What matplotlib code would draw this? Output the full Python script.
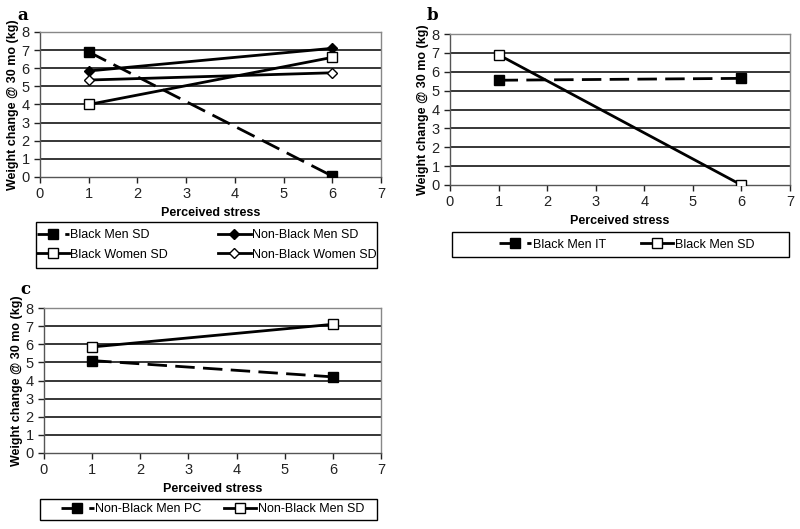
import matplotlib.pyplot as plt
from matplotlib.patches import Rectangle

plt.rcParams['font.family'] = ['Liberation Sans', 'DejaVu Sans']

x = [1, 6]

# panel a
a_black_men_sd = [6.9, 0.05]
a_nonblack_men_sd = [5.85, 7.1]
a_black_women_sd = [4.0, 6.6]
a_nonblack_women_sd = [5.35, 5.75]

# panel b
b_black_men_it = [5.55, 5.65]
b_black_men_sd = [6.9, 0.0]

# panel c
c_nonblack_men_pc = [5.1, 4.2]
c_nonblack_men_sd = [5.85, 7.1]

W, H = 800, 529
fig = plt.figure(figsize=(8, 5.29), dpi=100)
DASH = (0, (7, 3))


def px_axes(left, top, right, bottom):
    return fig.add_axes([left / W, 1 - bottom / H, (right - left) / W, (bottom - top) / H])


def style(ax):
    ax.set_xlim(0, 7)
    ax.set_ylim(0, 8)
    ax.set_xticks(range(0, 8))
    ax.set_yticks(range(0, 9))
    for y in range(1, 9):
        ax.axhline(y, color='black', lw=1.1, zorder=1)
    for s in ['top', 'right']:
        ax.spines[s].set_color('#888888')
        ax.spines[s].set_linewidth(1.0)
    for s in ['left', 'bottom']:
        ax.spines[s].set_color('#555555')
        ax.spines[s].set_linewidth(1.0)
    ax.tick_params(labelsize=10.5, length=4, direction='out', width=1, colors='#222222')
    ax.set_xlabel('Perceived stress', fontsize=9, fontweight='bold', labelpad=4)
    ax.set_ylabel('Weight change @ 30 mo (kg)', fontsize=9, fontweight='bold', labelpad=2)


def leg(ax, handles, left, top, right, bottom, colsp, shift=0, rowsp=0.6):
    fig.patches.append(Rectangle((left / W, 1 - bottom / H), (right - left) / W, (bottom - top) / H,
                                 transform=fig.transFigure, fill=False, ec='black', lw=1.0))
    ax.legend(handles=handles, loc='center',
              bbox_to_anchor=((left + right) / 2 / W + shift / W, 1 - (top + bottom) / 2 / H),
              bbox_transform=fig.transFigure, ncol=2, frameon=False, fontsize=9,
              handlelength=2.6, handletextpad=0.1, borderpad=0.0, labelspacing=rowsp,
              columnspacing=colsp)


# a
ax = px_axes(40, 32, 381, 177)
style(ax)
h1, = ax.plot(x, a_black_men_sd, color='black', lw=2, ls=DASH, marker='s', ms=7, mfc='black', label='Black Men SD', zorder=3)
h2, = ax.plot(x, a_nonblack_men_sd, color='black', lw=2, marker='D', ms=5, mfc='black', label='Non-Black Men SD', zorder=3)
h3, = ax.plot(x, a_black_women_sd, color='black', lw=2, marker='s', ms=7, mfc='white', label='Black Women SD', zorder=3)
h4, = ax.plot(x, a_nonblack_women_sd, color='black', lw=2, marker='D', ms=5, mfc='white', mew=1, label='Non-Black Women SD', zorder=3)
leg(ax, [h1, h3, h2, h4], 36, 222, 377, 268, 4.0)
fig.text(17 / W, 1 - 16 / H, 'a', fontsize=12, fontweight='bold', family='DejaVu Serif', va='center')

# b
ax = px_axes(450, 34, 790, 185)
style(ax)
h1, = ax.plot(x, b_black_men_it, color='black', lw=2, ls=DASH, marker='s', ms=7, mfc='black', label='Black Men IT', zorder=3)
h2, = ax.plot(x, b_black_men_sd, color='black', lw=2, marker='s', ms=7, mfc='white', label='Black Men SD', zorder=3)
leg(ax, [h1, h2], 452, 232, 789, 257, 2.8, shift=6)
fig.text(427 / W, 1 - 15 / H, 'b', fontsize=12, fontweight='bold', family='DejaVu Serif', va='center')

# c
ax = px_axes(44, 308, 381, 453)
style(ax)
h1, = ax.plot(x, c_nonblack_men_pc, color='black', lw=2, ls=DASH, marker='s', ms=7, mfc='black', label='Non-Black Men PC', zorder=3)
h2, = ax.plot(x, c_nonblack_men_sd, color='black', lw=2, marker='s', ms=7, mfc='white', label='Non-Black Men SD', zorder=3)
leg(ax, [h1, h2], 40, 499, 377, 520, 1.8, shift=4)
fig.text(20 / W, 1 - 290 / H, 'c', fontsize=12, fontweight='bold', family='DejaVu Serif', va='center')

fig.savefig('out.png', dpi=100)
